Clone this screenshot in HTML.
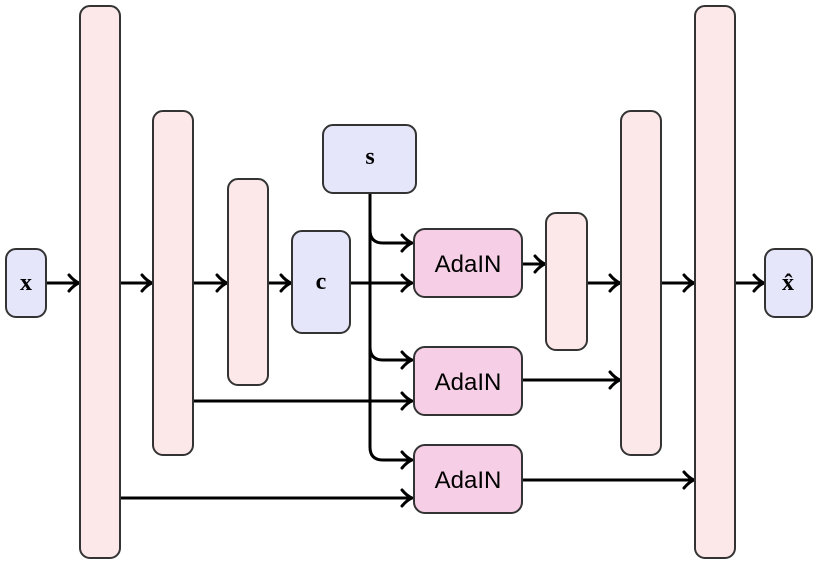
<!DOCTYPE html>
<html><head><meta charset="utf-8"><style>
html,body{margin:0;padding:0;background:#fff;width:820px;height:566px;overflow:hidden}
svg{display:block}
.lav{fill:#e6e6fa;stroke:#333;stroke-width:2}
.pk{fill:#fce8e8;stroke:#333;stroke-width:2}
.ad{fill:#f6cfe6;stroke:#333;stroke-width:2}
.ln{fill:none;stroke:#000;stroke-width:3}
.t{font-family:"Liberation Serif",serif;font-weight:bold;font-size:24px;text-anchor:middle}
.a{font-family:"Liberation Sans",sans-serif;font-size:24px;text-anchor:middle}
</style></head><body>
<svg width="820" height="566" viewBox="0 0 820 566">
<defs><marker id="ah" markerWidth="14" markerHeight="20" refX="12" refY="10" orient="auto" markerUnits="userSpaceOnUse">
<path d="M2,2 Q7,8 12,10 Q7,12 2,18" fill="none" stroke="#000" stroke-width="3" stroke-linecap="round"/></marker></defs>
<g>
<path class="ln" d="M46,283 H79" marker-end="url(#ah)"/>
<path class="ln" d="M120,283 H152" marker-end="url(#ah)"/>
<path class="ln" d="M193,283 H227" marker-end="url(#ah)"/>
<path class="ln" d="M268,283 H291" marker-end="url(#ah)"/>
<path class="ln" d="M350,283 H412" marker-end="url(#ah)"/>
<path class="ln" d="M370,193 V447 Q370,460 383,460 H412" marker-end="url(#ah)"/>
<path class="ln" d="M370,230 Q370,243 383,243 H412" marker-end="url(#ah)"/>
<path class="ln" d="M370,347 Q370,360 383,360 H412" marker-end="url(#ah)"/>
<path class="ln" d="M193,401 H412" marker-end="url(#ah)"/>
<path class="ln" d="M120,498 H412" marker-end="url(#ah)"/>
<path class="ln" d="M523,264 H545" marker-end="url(#ah)"/>
<path class="ln" d="M523,380 H620" marker-end="url(#ah)"/>
<path class="ln" d="M523,480 H694" marker-end="url(#ah)"/>
<path class="ln" d="M587,283 H620" marker-end="url(#ah)"/>
<path class="ln" d="M661,283 H694" marker-end="url(#ah)"/>
<path class="ln" d="M735,283 H764" marker-end="url(#ah)"/>
</g>
<rect class="lav" x="6" y="249" width="40" height="68" rx="10"/>
<text class="t" x="26" y="290">x</text>
<rect class="pk" x="80" y="6" width="40" height="552" rx="10"/>
<rect class="pk" x="153" y="111" width="40" height="344" rx="10"/>
<rect class="pk" x="228" y="179" width="40" height="206" rx="10"/>
<rect class="lav" x="292" y="231" width="58" height="102" rx="10"/>
<text class="t" x="321" y="289">c</text>
<rect class="lav" x="323" y="125" width="93" height="68" rx="10"/>
<text class="t" x="370" y="164">s</text>
<rect class="ad" x="414" y="229" width="108" height="68" rx="11"/>
<text class="a" x="468" y="272">AdaIN</text>
<rect class="ad" x="414" y="347" width="108" height="68" rx="11"/>
<text class="a" x="468" y="390">AdaIN</text>
<rect class="ad" x="414" y="445" width="108" height="68" rx="11"/>
<text class="a" x="468" y="488">AdaIN</text>
<rect class="pk" x="546" y="213" width="41" height="137" rx="10"/>
<rect class="pk" x="621" y="111" width="40" height="344" rx="10"/>
<rect class="pk" x="695" y="6" width="40" height="552" rx="10"/>
<rect class="lav" x="765" y="249" width="47" height="68" rx="10"/>
<text class="t" x="788" y="290">x̂</text>
</svg>
</body></html>
